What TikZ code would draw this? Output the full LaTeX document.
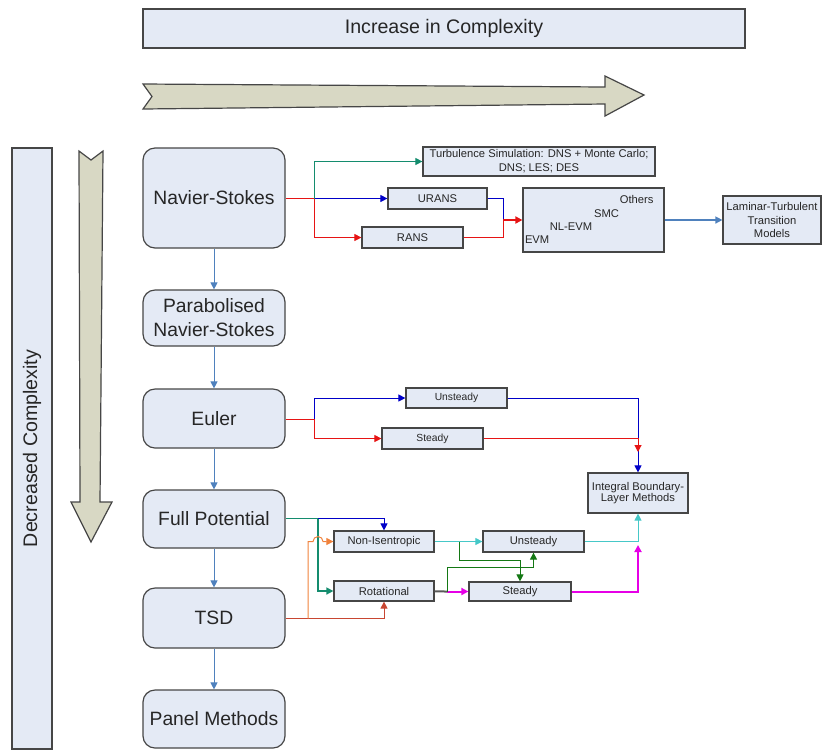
\documentclass[tikz,border=0pt]{standalone}
\usepackage{fontspec}
\setmainfont{Liberation Sans}
\usetikzlibrary{arrows.meta}
\definecolor{boxfill}{RGB}{228,234,245}
\definecolor{boxline}{RGB}{70,70,70}
\definecolor{bandfill}{RGB}{216,216,196}
\definecolor{mainblue}{RGB}{79,129,189}
\definecolor{cblue}{RGB}{0,0,200}
\definecolor{cred}{RGB}{230,20,20}
\definecolor{cteal}{RGB}{20,140,110}
\definecolor{ccyan}{RGB}{70,200,200}
\definecolor{cgreen}{RGB}{20,120,20}
\definecolor{cmag}{RGB}{230,0,230}
\definecolor{corange}{RGB}{240,130,60}
\definecolor{cbrown}{RGB}{200,70,50}
\begin{document}
\begin{tikzpicture}[x=0.5pt,y=-0.5pt,line width=0.5pt,
    box/.style={draw=boxline,fill=boxfill,line width=0.6pt,inner sep=0pt,align=center,text=black!85},
    mainbox/.style={box,rounded corners=6pt,minimum width=71pt,font=\fontsize{9.65}{12}\selectfont},
    smallbox/.style={box,font=\fontsize{5.6}{6.9}\selectfont},
    label/.style={inner sep=0pt,text=black!85,font=\fontsize{5.6}{6.9}\selectfont},
    arr/.style={-{Triangle[length=3.5pt,width=3.5pt]}}]
    \useasboundingbox (0,0) rectangle (822,751);
    \node[box,minimum width=301pt,minimum height=19.5pt,font=\fontsize{9.8}{12}\selectfont] (incr) at (444,28.5) {Increase in Complexity};
    \node[box,rotate=90,minimum width=300.5pt,minimum height=20pt,font=\fontsize{9.8}{12}\selectfont] (decr) at (32,448.5) {Decreased Complexity};
    \filldraw[fill=bandfill,draw=boxline,line width=0.6pt] (143,84) -- (605,87) -- (605,76) -- (644,95)
        -- (605,116) -- (605,104) -- (143,109) -- (152,96.5) -- cycle;
    \filldraw[fill=bandfill,draw=boxline,line width=0.6pt] (79,151) -- (91,160) -- (103,151) -- (100,502)
        -- (112,502) -- (91,542) -- (71,502) -- (80,502) -- cycle;
    \node[mainbox,minimum height=50pt] (ns) at (214,198) {Navier-Stokes};
    \node[mainbox,minimum height=28pt] (pns) at (214,318) {Parabolised\\Navier-Stokes};
    \node[mainbox,minimum height=29.5pt] (eul) at (214,418.5) {Euler};
    \node[mainbox,minimum height=29pt] (fp) at (214,519) {Full Potential};
    \node[mainbox,minimum height=30pt] (tsd) at (214,618) {TSD};
    \node[mainbox,minimum height=29pt] (pm) at (214,719) {Panel Methods};
    \foreach \a/\b in {ns/pns,pns/eul,eul/fp,fp/tsd,tsd/pm} {\draw[mainblue,arr] (\a) -- (\b);}
    \node[smallbox,minimum width=116pt,minimum height=14.5pt] (turb) at (539,161.5) {Turbulence Simulation: DNS + Monte Carlo;\\DNS; LES; DES};
    \node[smallbox,minimum width=49.5pt,minimum height=10.5pt] (urans) at (437.5,198.5) {URANS};
    \node[smallbox,minimum width=50.5pt,minimum height=10.5pt] (rans) at (412.5,237.5) {RANS};
    \node[smallbox,minimum width=70.5pt,minimum height=32pt] (models) at (593.5,220) {};
    \node[label,anchor=east] (others) at (654,199.5) {Others};
    \node[label] (smc) at (606.5,213.5) {SMC};
    \node[label] (nlevm) at (571,226.5) {NL-EVM};
    \node[label,anchor=west] (evm) at (524.5,239.5) {EVM};
    \node[smallbox,minimum width=49pt,minimum height=24pt,font=\fontsize{5.6}{6.75}\selectfont] (lam) at (772,220) {Laminar-Turbulent\\Transition\\Models};
    \node[smallbox,minimum width=50.5pt,minimum height=10pt,font=\fontsize{5.15}{6.5}\selectfont] (eunst) at (456.5,398) {Unsteady};
    \node[smallbox,minimum width=50.5pt,minimum height=10.5pt,font=\fontsize{5.15}{6.5}\selectfont] (est) at (432.5,438.5) {Steady};
    \node[smallbox,minimum width=50pt,minimum height=20pt,font=\fontsize{5.6}{5.9}\selectfont] (ibl) at (638,493) {Integral Boundary-\\Layer Methods};
    \node[smallbox,minimum width=50pt,minimum height=10.5pt] (noniso) at (384,541.5) {Non-Isentropic};
    \node[smallbox,minimum width=50pt,minimum height=10pt] (rot) at (384,591) {Rotational};
    \node[smallbox,minimum width=50.5pt,minimum height=10.5pt] (funst) at (533.5,541.5) {Unsteady};
    \node[smallbox,minimum width=51pt,minimum height=9.5pt] (fst) at (520,591.5) {Steady};
    \coordinate (nsj) at (314,198.5);
    \coordinate (mj) at (503,220);
    \draw[cred] (ns.east |- nsj) -- (nsj);
    \draw[cblue,arr] (nsj) -- (urans);
    \draw[cred,arr] (nsj) |- (rans);
    \draw[cteal,arr] (nsj) |- (turb);
    \draw[cblue] (urans) -| (mj);
    \draw[cred] (rans) -| (mj);
    \draw[cred,line width=1.2pt,arr] (mj) -- (models);
    \draw[mainblue,line width=0.7pt,arr] (models) -- (lam);
    \coordinate (ej) at (314,419);
    \coordinate (etip) at (638,452);
    \draw[cred] (eul.east |- ej) -- (ej);
    \draw[cblue,arr] (ej) |- (eunst);
    \draw[cred,arr] (ej) |- (est);
    \draw[cblue,arr] (eunst) -| (ibl);
    \draw[cred,arr] (est) -| (etip);
    \coordinate (fj) at (318,518.5);
    \coordinate (tj) at (308,618.5);
    \coordinate (nj) at (459,541.5);
    \coordinate (rj) at (447,591.5);
    \coordinate (mtip) at (638,545);
    \draw[cteal,line width=0.7pt] (fp.east |- fj) -- (fj);
    \draw[cblue,arr] (fj) -| (noniso);
    \draw[cteal,line width=0.7pt,arr] (fj) |- (rot);
    \draw[cbrown,arr] (tsd.east |- tj) -| (rot);
    \draw[corange,arr] (tj) -- (308,541.5) -- (313,541.5) arc[start angle=180,end angle=360,radius=5] -- (noniso.west);
    \draw[ccyan,arr] (noniso) -- (funst);
    \draw[cgreen,arr] (nj) -- (459,560) -| (fst);
    \draw[black!65,line width=1pt] (rot) -- (rj);
    \draw[cmag,line width=1pt,arr] (rj) -- (fst);
    \draw[cgreen,arr] (rj) -- (447,567) -| (funst);
    \draw[ccyan,arr] (funst) -| (ibl);
    \draw[cmag,line width=1pt,arr] (fst) -| (mtip);
\end{tikzpicture}
\end{document}
